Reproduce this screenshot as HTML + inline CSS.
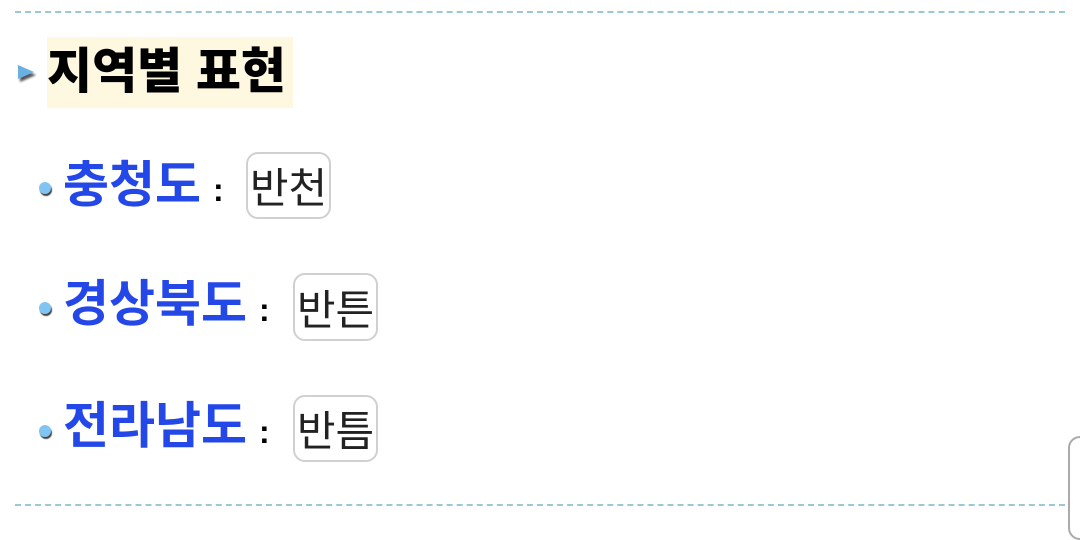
<!DOCTYPE html>
<html><head><meta charset="utf-8"><style>
body{margin:0;width:1080px;height:529px;background:#fff;position:relative;overflow:hidden;font-family:"Liberation Sans","Noto Sans CJK KR",sans-serif}
.dash{position:absolute;left:15px;width:1050px;border-top:2px dashed #9cc8d4}
.hl{position:absolute;left:47px;top:37px;width:246px;height:71px;background:#fff8e0}
.title{position:absolute;left:47px;top:40px;font-size:49px;font-weight:900;color:#000;line-height:64px;letter-spacing:0px;white-space:nowrap}
.tri{position:absolute;left:18px;top:65px;width:0;height:0;border-top:7px solid transparent;border-bottom:7px solid transparent;border-left:16px solid #6ab0e0;filter:drop-shadow(2px 3px 1px #555)}
.dot{position:absolute;width:12px;height:12px;border-radius:50%;background:#7fc4f2;box-shadow:1px 2px 1px #444}
.lbl{position:absolute;font-size:50px;font-weight:bold;color:#2448e8;line-height:60px;white-space:nowrap}
.col{position:absolute;font-size:32px;font-weight:bold;color:#000;line-height:60px}
.box{position:absolute;border:2px solid #d0d0d0;border-radius:12px;font-size:42px;color:#222;display:flex;align-items:center;justify-content:center;box-sizing:border-box}
</style></head><body>
<div class="dash" style="top:11px"></div>
<div class="dash" style="top:504px"></div>
<div style="position:absolute;left:1068px;top:436px;width:30px;height:100px;border:2px solid #aaa;border-radius:12px"></div>
<div class="hl"></div>
<div class="tri"></div>
<div class="title">지역별 표현</div>

<div class="dot" style="left:39px;top:182px"></div>
<div class="lbl" style="left:63px;top:155px">충청도</div>
<div class="col" style="left:213px;top:160px">:</div>
<div class="box" style="left:246px;top:152px;width:85px;height:67px">반천</div>

<div class="dot" style="left:39px;top:302px"></div>
<div class="lbl" style="left:63px;top:274px">경상북도</div>
<div class="col" style="left:259px;top:280px">:</div>
<div class="box" style="left:293px;top:273px;width:85px;height:68px">반튼</div>

<div class="dot" style="left:39px;top:425px"></div>
<div class="lbl" style="left:63px;top:396px">전라남도</div>
<div class="col" style="left:259px;top:402px">:</div>
<div class="box" style="left:293px;top:395px;width:85px;height:67px">반틈</div>
</body></html>
